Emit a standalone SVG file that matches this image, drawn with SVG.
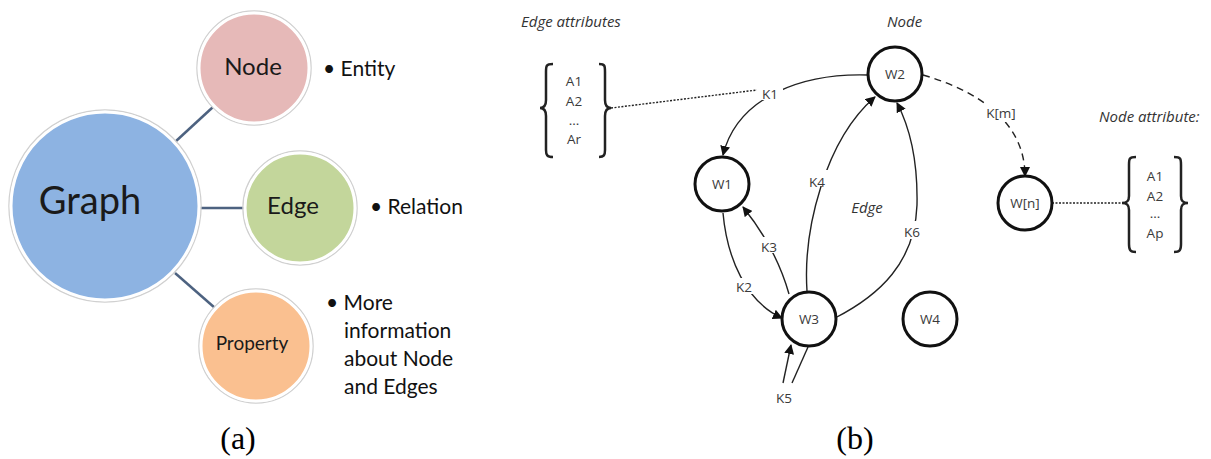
<svg xmlns="http://www.w3.org/2000/svg" width="1211" height="459" viewBox="0 0 1211 459">
<defs>
<style>
.bub{stroke:#ffffff;stroke-width:3}
.rim{fill:none;stroke:#d0d0d0;stroke-width:1.5}
.lt{font-family:Lato,"Open Sans",sans-serif;fill:#1a1a1a}
.bt{font-family:Lato,"Open Sans",sans-serif;fill:#111;font-size:21px}
.nd{fill:#fff;stroke:#111;stroke-width:3}
.nl{font-family:"Open Sans",Lato,sans-serif;font-size:13.5px;fill:#3a3a3a;text-anchor:middle}
.it{font-family:"Open Sans",Lato,sans-serif;font-size:15px;fill:#333;font-style:italic}
.ed{fill:none;stroke:#222;stroke-width:1.4}
.br{fill:none;stroke:#222;stroke-width:2.5}
.lk{stroke:#4d6280;stroke-width:2.5}
.cap{font-family:"Liberation Serif",serif;font-size:32px;fill:#000;text-anchor:middle}
</style>
<marker id="ah" markerWidth="10" markerHeight="10" refX="9" refY="5" orient="auto" markerUnits="userSpaceOnUse">
<path d="M0,0 L10,5 L0,10 Z" fill="#111"/>
</marker>
</defs>
<rect width="1211" height="459" fill="#fff"/>

<g id="connectors-a">
<line class="lk" x1="175" y1="142" x2="213" y2="107"/>
<line class="lk" x1="200" y1="208" x2="246" y2="208"/>
<line class="lk" x1="175" y1="273" x2="215" y2="308"/>
</g>

<g id="graph">
<circle cx="105" cy="206" r="96" class="rim"/>
<circle cx="105" cy="206" r="94" fill="#8db3e2" class="bub"/>
<text x="90" y="214" class="lt" font-size="38" text-anchor="middle">Graph</text>
</g>
<g id="node-a">
<circle cx="254" cy="68" r="57" class="rim"/>
<circle cx="254" cy="68" r="55" fill="#e6b9b8" class="bub"/>
<text x="253" y="75" class="lt" font-size="24" text-anchor="middle">Node</text>
</g>
<g id="edge-a">
<circle cx="300" cy="208" r="57" class="rim"/>
<circle cx="300" cy="208" r="55" fill="#c3d69b" class="bub"/>
<text x="293" y="214" class="lt" font-size="24" text-anchor="middle">Edge</text>
</g>
<g id="property-a">
<circle cx="256" cy="346" r="57" class="rim"/>
<circle cx="256" cy="346" r="55" fill="#fac090" class="bub"/>
<text x="252" y="350" class="lt" font-size="19" text-anchor="middle">Property</text>
</g>
<g id="bullets">
<text x="323" y="76" class="bt">• Entity</text>
<text x="370" y="214" class="bt">• Relation</text>
<text x="326" y="310" class="bt">• More</text>
<text x="344" y="338" class="bt">information</text>
<text x="344" y="366" class="bt">about Node</text>
<text x="344" y="394" class="bt">and Edges</text>
</g>
<text x="238" y="449" class="cap">(a)</text>
<text x="855" y="449" class="cap">(b)</text>

<g id="connectors">
<path class="ed" d="M868,75 C805,73 738,95 723,155" marker-end="url(#ah)"/>
<path class="ed" d="M807,291 C803,230 825,140 875,97" marker-end="url(#ah)"/>
<path class="ed" d="M835,318 C880,295 915,262 917,205 C918,155 907,122 897,103" marker-end="url(#ah)"/>
<path class="ed" d="M789,294 Q776,248 743,207" marker-end="url(#ah)"/>
<path class="ed" d="M723,213 C727,258 746,302 782,318" marker-end="url(#ah)"/>
<path class="ed" d="M808,347 L792,383"/>
<path class="ed" d="M783,383 L791,345" marker-end="url(#ah)"/>
<path class="ed" d="M923,75 C975,90 1025,120 1025,176" stroke-dasharray="7,5" marker-end="url(#ah)"/>
<line class="ed" x1="611" y1="108" x2="757" y2="90" stroke-dasharray="2,1.5"/>
<line class="ed" x1="1052" y1="203" x2="1122" y2="203" stroke-dasharray="2,1.5"/>
</g>
<g id="edge-labels">
<rect x="757" y="84" width="26" height="16" fill="#fff"/>
<text x="770" y="99" class="nl">K1</text>
<rect x="806" y="170" width="22" height="16" fill="#fff"/>
<text x="817" y="187" class="nl">K4</text>
<rect x="900" y="221" width="24" height="18" fill="#fff"/>
<text x="912" y="237" class="nl">K6</text>
<rect x="758" y="237" width="22" height="16" fill="#fff"/>
<text x="769" y="252" class="nl">K3</text>
<rect x="732" y="278" width="24" height="16" fill="#fff"/>
<text x="744" y="292" class="nl">K2</text>
<text x="784" y="403" class="nl">K5</text>
<rect x="984" y="104" width="34" height="18" fill="#fff"/>
<text x="1001" y="118" class="nl">K[m]</text>
<text x="867" y="213" class="it" text-anchor="middle">Edge</text>
</g>

<g id="W2"><circle cx="895" cy="74" r="27" class="nd"/><text x="895" y="79" class="nl">W2</text></g>
<g id="W1"><circle cx="722" cy="184" r="27" class="nd"/><text x="722" y="189" class="nl">W1</text></g>
<g id="W3"><circle cx="809" cy="319" r="27" class="nd"/><text x="809" y="324" class="nl">W3</text></g>
<g id="W4"><circle cx="930" cy="319" r="27" class="nd"/><text x="930" y="324" class="nl">W4</text></g>
<g id="Wn"><circle cx="1025" cy="203" r="27" class="nd"/><text x="1025" y="208" class="nl">W[n]</text></g>

<g id="edge-attributes">
<text x="521" y="27" class="it">Edge attributes</text>
<path class="br" d="M553,64 C546,64 546,66 546,72 L546,100 C546,106 544,108 540,108 C544,108 546,110 546,116 L546,150 C546,155 547,157 553,157"/>
<path class="br" d="M599,64 C605,64 605,66 605,72 L605,100 C605,106 607,108 611,108 C607,108 605,110 605,116 L605,150 C605,155 604,157 599,157"/>
<text x="574" y="86" class="nl">A1</text>
<text x="574" y="106" class="nl">A2</text>
<text x="574" y="125" class="nl" font-size="10">...</text>
<text x="574" y="144" class="nl">Ar</text>
</g>
<g id="node-attributes">
<text x="887" y="27" class="it">Node</text>
<text x="1099" y="122" class="it">Node attribute:</text>
<path class="br" d="M1136,157 C1129,157 1129,159 1129,165 L1129,196 C1129,201 1127,203 1122,203 C1127,203 1129,205 1129,210 L1129,244 C1129,250 1130,252 1136,252"/>
<path class="br" d="M1174,157 C1181,157 1181,159 1181,165 L1181,196 C1181,201 1183,203 1188,203 C1183,203 1181,205 1181,210 L1181,244 C1181,250 1180,252 1174,252"/>
<text x="1155" y="181" class="nl">A1</text>
<text x="1155" y="201" class="nl">A2</text>
<text x="1155" y="218" class="nl" font-size="10">...</text>
<text x="1155" y="238" class="nl">Ap</text>
</g>
</svg>
